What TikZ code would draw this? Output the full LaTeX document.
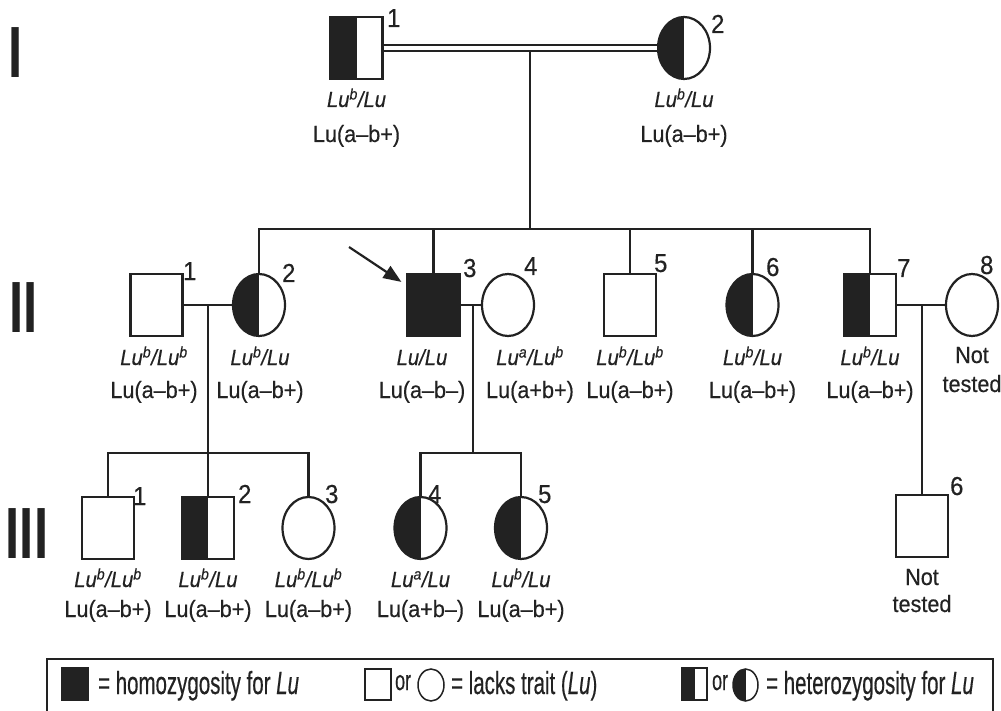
\documentclass[tikz,border=0pt]{standalone}
\usepackage{fontspec}
\usetikzlibrary{shapes.geometric, arrows.meta}
\newfontfamily\pedfont{Liberation Sans}[FakeStretch=0.92, FakeBold=0.4]
\newfontfamily\legfont{Liberation Sans}[FakeStretch=0.64, FakeBold=0.4]
\newfontfamily\genfont{Liberation Sans}[FakeStretch=0.7]
\definecolor{ink}{HTML}{222222}

\begin{document}
\begin{tikzpicture}[x=1pt, y=-1pt, line width=2.2pt, color=ink,
  sym/.style={draw, fill=white, inner sep=0pt, minimum width=52, minimum height=62},
  male/.style={sym, rectangle},
  female/.style={sym, ellipse},
  hom/.style={fill=ink},
  het/.style={path picture={\fill[ink] (path picture bounding box.south west) rectangle (path picture bounding box.north);}},
  geno/.style={anchor=base, font=\pedfont\itshape\fontsize{22}{22}\selectfont},
  pheno/.style={anchor=base, font=\pedfont\fontsize{23.5}{24}\selectfont},
  num/.style={anchor=base west, inner sep=0pt, font=\pedfont\fontsize{26}{26}\selectfont},
  gen/.style={anchor=base west, inner sep=0pt, font=\genfont\bfseries\fontsize{72.6}{73}\selectfont},
  leg/.style={anchor=base west, inner sep=0pt, font=\legfont\fontsize{32}{32}\selectfont},
  proband/.style={-{Triangle[length=18pt, width=14pt]}}]
  \useasboundingbox (0,0) rectangle (1001,711);

  % generation labels
  \node[gen] (genI) at (7.7,78) {I};
  \node[gen] (genII) at (8.7,332) {II};
  \node[gen] (genIII) at (4.7,558) {III};

  % generation I
  \node[male, het] (I1) at (356.5,48) {};
  \node[female, het] (I2) at (684,48) {};
  \draw[double=white, double distance=4.5pt, line width=1.8pt] (I1) -- (I2);
  \coordinate (mI) at (530,51);
  \coordinate (sI) at (530,229);
  \draw (mI) -- (sI);

  % generation II
  \node[male] (II1) at (156.5,305) {};
  \node[female, het] (II2) at (259,305) {};
  \node[male, hom] (II3) at (433.5,305) {};
  \node[female] (II4) at (508,305) {};
  \node[male] (II5) at (630,305) {};
  \node[female, het] (II6) at (752.5,305) {};
  \node[male, het] (II7) at (870,305) {};
  \node[female] (II8) at (972,305) {};
  \draw (II2.north) -- (II2.north |- sI) -- (II7.north |- sI) -- (II7.north);
  \foreach \k in {II3, II5, II6}
    \draw (\k.north) -- (\k.north |- sI);
  \draw (II1) -- (II2);
  \draw (II3) -- (II4);
  \draw (II7) -- (II8);
  \coordinate (pb) at (349,247);
  \draw[proband] (pb) -- ([shift={(-5,9)}]II3.north west);

  % generation III
  \node[male] (III1) at (108,528) {};
  \node[male, het] (III2) at (208,528) {};
  \node[female] (III3) at (308.5,528) {};
  \node[female, het] (III4) at (420.5,528) {};
  \node[female, het] (III5) at (521,528) {};
  \node[male] (III6) at (922,526) {};
  \coordinate (m1) at (208,305);
  \coordinate (s1) at (208,453);
  \coordinate (m2) at (473,305);
  \coordinate (s2) at (473,453);
  \coordinate (m3) at (922,305);
  \draw (m1) -- (III2.north);
  \draw (III1.north) -- (III1.north |- s1) -- (III3.north |- s1) -- (III3.north);
  \draw (m2) -- (s2);
  \draw (III4.north) -- (III4.north |- s2) -- (III5.north |- s2) -- (III5.north);
  \draw (m3) -- (III6.north);

  % numbers
  \node[num] at (386,27) {1};
  \node[num] at (710,33) {2};
  \node[num] at (182,280) {1};
  \node[num] at (281,282) {2};
  \node[num] at (462,277) {3};
  \node[num] at (523,275) {4};
  \node[num] at (653,272) {5};
  \node[num] at (765,276) {6};
  \node[num] at (896,277) {7};
  \node[num] at (979,274) {8};
  \node[num] at (132,505) {1};
  \node[num] at (237,503) {2};
  \node[num] at (324,503) {3};
  \node[num] at (427,503) {4};
  \node[num] at (537,503) {5};
  \node[num] at (949,495) {6};

  % genotypes and phenotypes
  \node[geno] at (356.5,107) {Lu\textsuperscript{b}/Lu};
  \node[pheno] at (356.5,142) {Lu(a–b+)};
  \node[geno] at (684,107) {Lu\textsuperscript{b}/Lu};
  \node[pheno] at (684,142) {Lu(a–b+)};

  \node[geno] at (154,365) {Lu\textsuperscript{b}/Lu\textsuperscript{b}};
  \node[pheno] at (154,398) {Lu(a–b+)};
  \node[geno] at (260,365) {Lu\textsuperscript{b}/Lu};
  \node[pheno] at (260,398) {Lu(a–b+)};
  \node[geno] at (422,365) {Lu/Lu};
  \node[pheno] at (422,398) {Lu(a–b–)};
  \node[geno] at (530,365) {Lu\textsuperscript{a}/Lu\textsuperscript{b}};
  \node[pheno] at (530,398) {Lu(a+b+)};
  \node[geno] at (630,365) {Lu\textsuperscript{b}/Lu\textsuperscript{b}};
  \node[pheno] at (630,398) {Lu(a–b+)};
  \node[geno] at (752.5,365) {Lu\textsuperscript{b}/Lu};
  \node[pheno] at (752.5,398) {Lu(a–b+)};
  \node[geno] at (870,365) {Lu\textsuperscript{b}/Lu};
  \node[pheno] at (870,398) {Lu(a–b+)};
  \node[pheno] at (972,363) {Not};
  \node[pheno] at (972,392) {tested};

  \node[geno] at (108,587) {Lu\textsuperscript{b}/Lu\textsuperscript{b}};
  \node[pheno] at (108,617) {Lu(a–b+)};
  \node[geno] at (208,587) {Lu\textsuperscript{b}/Lu};
  \node[pheno] at (208,617) {Lu(a–b+)};
  \node[geno] at (308.5,587) {Lu\textsuperscript{b}/Lu\textsuperscript{b}};
  \node[pheno] at (308.5,617) {Lu(a–b+)};
  \node[geno] at (420.5,587) {Lu\textsuperscript{a}/Lu};
  \node[pheno] at (420.5,617) {Lu(a+b–)};
  \node[geno] at (521,587) {Lu\textsuperscript{b}/Lu};
  \node[pheno] at (521,617) {Lu(a–b+)};
  \node[pheno] at (922,585) {Not};
  \node[pheno] at (922,612) {tested};

  % key
  \draw[line width=1.6pt] (47,659) rectangle (993,725);
  \node[male, hom, line width=1.5pt, minimum width=26, minimum height=32] (kHom) at (75,684) {};
  \node[leg] (tHom) at (97,694) {= homozygosity for \textit{Lu}};
  \node[male, line width=1.5pt, minimum width=26, minimum height=31] (kSq) at (378,684.5) {};
  \node[leg, font=\legfont\fontsize{28}{28}\selectfont] (kOr1) at (394,690) {or};
  \node[female, line width=1.5pt, minimum width=26, minimum height=32] (kCi) at (431,685) {};
  \node[leg] (tNone) at (450,694) {= lacks trait (\textit{Lu})};
  \node[male, het, line width=1.5pt, minimum width=25, minimum height=32] (kHsq) at (694.5,684) {};
  \node[leg, font=\legfont\fontsize{28}{28}\selectfont] (kOr2) at (711,690) {or};
  \node[female, het, line width=1.5pt, minimum width=25, minimum height=32] (kHci) at (745.5,685) {};
  \node[leg] (tHet) at (765,694) {= heterozygosity for \textit{Lu}};
\end{tikzpicture}
\end{document}
